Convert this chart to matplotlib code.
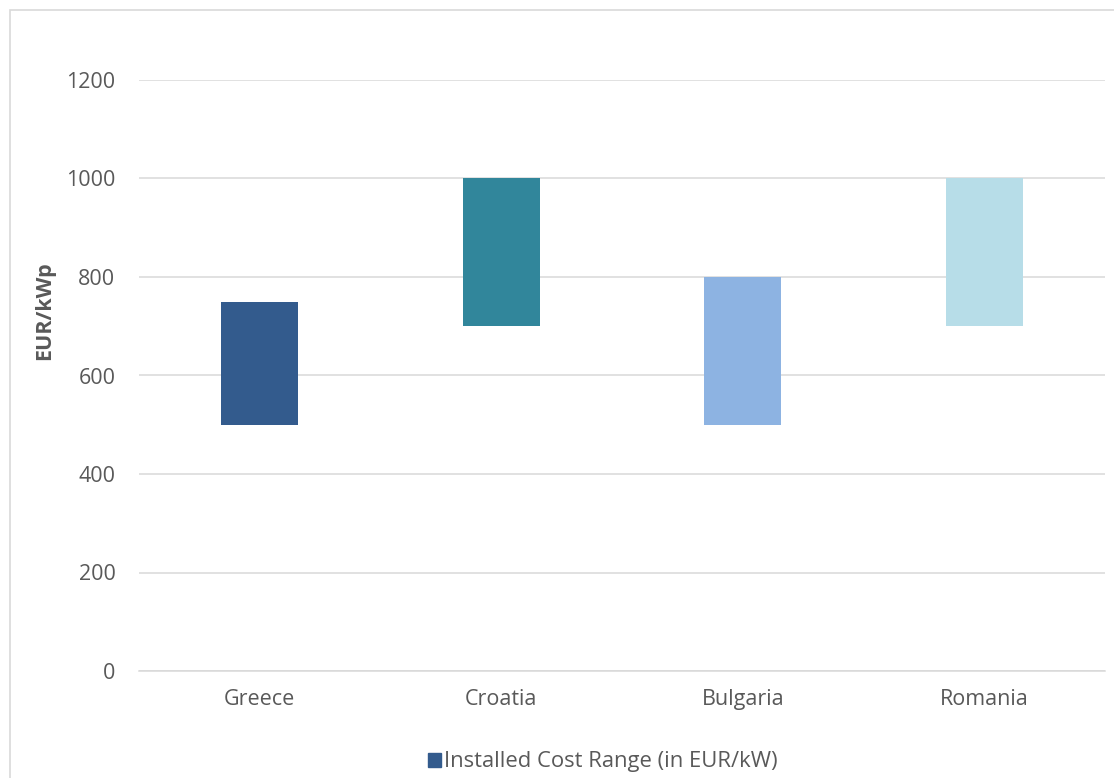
import matplotlib.pyplot as plt
from matplotlib.patches import Rectangle

# installed cost range per country (EUR/kWp)
countries = ['Greece', 'Croatia', 'Bulgaria', 'Romania']
cost_low = [500, 700, 500, 700]
cost_high = [750, 1000, 800, 1000]
colors = ['#335B8D', '#31869B', '#8DB3E2', '#B7DDE8']
yticks = [0, 200, 400, 600, 800, 1000, 1200]

plt.rcParams['font.family'] = ['Open Sans', 'DejaVu Sans']
grey = '#595959'

fig = plt.figure(figsize=(11.14, 7.78), dpi=100)
ax = fig.add_axes([139 / 1114, 1 - 671 / 778, (1105 - 139) / 1114, (671 - 80) / 778])

x = range(len(countries))
heights = [h - l for l, h in zip(cost_low, cost_high)]
bars = ax.bar(x, heights, bottom=cost_low, width=0.32, color=colors, zorder=3)

ax.set_xlim(-0.5, len(countries) - 0.5)
ax.set_ylim(0, 1200)
ax.set_yticks(yticks)
ax.set_xticks(list(x))
ax.set_xticklabels(countries)
ax.tick_params(axis='both', length=0, colors=grey, labelsize=15.5)
ax.tick_params(axis='y', pad=17)
ax.tick_params(axis='x', pad=13)
ax.yaxis.grid(True, color='#D9D9D9', linewidth=1.1, zorder=0)
for s in ['top', 'right', 'left']:
    ax.spines[s].set_visible(False)
ax.spines['bottom'].set_color('#D9D9D9')
ax.spines['bottom'].set_linewidth(1.1)

ax.set_ylabel('EUR/kWp', fontsize=15.5, fontweight='bold', color=grey)
ax.yaxis.set_label_coords(-0.087, 0.61)

# legend box at the bottom
handle = Rectangle((0, 0), 1, 1, color=colors[0])
fig.legend([handle], ['Installed Cost Range (in EUR/kW)'], loc='center',
           bbox_to_anchor=(603 / 1114, 1 - 762 / 778), frameon=False,
           fontsize=15.8, labelcolor=grey, handlelength=0.6, handleheight=0.6,
           handletextpad=0.15)

# chart border
fig.patches.append(Rectangle((10 / 1114, -0.5), 2, 1.5 - 10 / 778,
                             transform=fig.transFigure, fill=False,
                             edgecolor='#D9D9D9', linewidth=1.2))

fig.savefig('out.png', dpi=100)
